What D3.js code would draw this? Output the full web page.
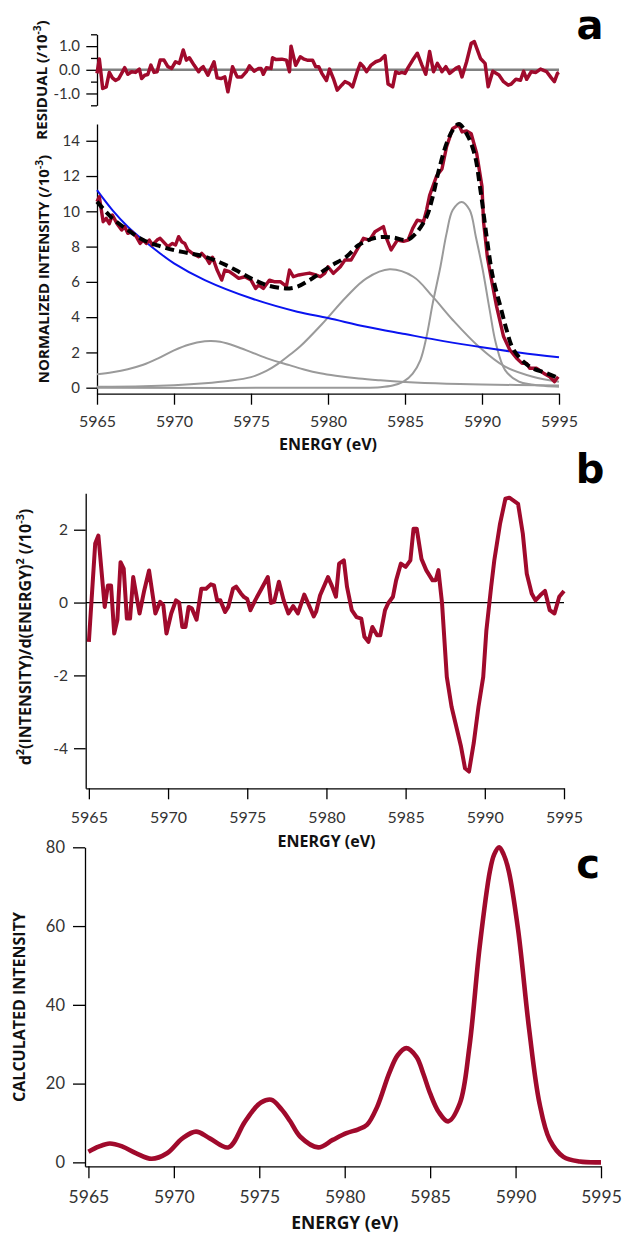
<!DOCTYPE html>
<html>
<head>
<meta charset="utf-8">
<script src="https://cdn.jsdelivr.net/npm/d3@7/dist/d3.min.js"></script>
<style>
  body { margin: 0; background: #fff; }
  svg { display: block; }
  .axis path, .axis line { stroke: #000; stroke-width: 1.3; }
  .axis text { font-family: Lato, "Open Sans", sans-serif; fill: #333; }
  .title { font-family: "Open Sans", sans-serif; font-weight: bold; fill: #111; }
  .letter { font-family: "DejaVu Sans", sans-serif; font-weight: bold; font-size: 40px; fill: #000; }
</style>
</head>
<body>
<script>
// ---- data ----
const energyTicks = [5965, 5970, 5975, 5980, 5985, 5990, 5995];

// panel a, residual (/10^-3)
const resE = [5965.0,5965.15,5965.37,5965.6,5965.8,5966.0,5966.2,5966.4,5966.6,5966.8,5967.0,5967.25,5967.5,5967.75,5967.9,5968.1,5968.3,5968.5,5968.7,5968.9,
  5969.1,5969.35,5969.6,5969.85,5970.1,5970.35,5970.6,5970.8,5971.0,5971.3,5971.6,5971.75,5971.9,5972.2,5972.4,5972.6,5972.8,5973.05,5973.3,5973.5,
  5973.8,5974.1,5974.4,5974.7,5974.9,5975.2,5975.5,5975.65,5975.8,5976.0,5976.3,5976.4,5976.6,5977.0,5977.3,5977.5,5977.6,5977.9,5978.2,5978.45,
  5978.7,5979.0,5979.2,5979.4,5979.6,5979.9,5980.1,5980.35,5980.6,5980.9,5981.1,5981.35,5981.6,5981.9,5982.1,5982.3,5982.5,5982.8,5983.1,5983.4,
  5983.7,5983.9,5984.2,5984.4,5984.6,5984.8,5985.0,5985.2,5985.5,5985.8,5986.1,5986.35,5986.6,5986.85,5987.1,5987.3,5987.4,5987.65,5987.9,5988.3,
  5988.5,5988.7,5989.0,5989.3,5989.5,5989.9,5990.2,5990.4,5990.7,5991.1,5991.4,5991.7,5991.9,5992.2,5992.5,5992.7,5992.9,5993.2,5993.5,5993.8,
  5994.2,5994.5,5994.7,5994.9,5995.0];
const resV = [-0.15,0.46,-0.79,-0.72,-0.11,-0.34,-0.45,-0.38,-0.15,0.09,-0.19,-0.08,-0.11,0.03,-0.37,-0.23,-0.2,0.2,-0.11,-0.08,
  0.41,0.41,0.13,0.06,0.34,0.27,0.84,0.41,0.51,0.2,-0.08,0.06,0.13,-0.23,0.06,0.34,-0.34,-0.37,-0.3,-0.93,
  0.13,-0.3,-0.3,-0.08,0.17,-0.06,0.06,0.06,-0.19,0.09,0.06,0.51,0.44,0.45,0.41,-0.08,1.0,0.19,0.55,0.45,
  0.4,0.4,0.13,0.13,-0.15,-0.45,0.03,-0.37,-0.86,-0.64,-0.5,-0.57,-0.72,-0.08,0.27,0.13,-0.08,0.2,0.34,0.41,
  0.6,-0.6,-0.72,-0.08,-0.15,-0.11,-0.15,0.09,0.41,0.7,0.2,-0.19,0.77,-0.08,0.27,0.06,-0.08,0.13,-0.15,0.06,
  0.13,-0.3,0.34,1.12,1.19,0.48,0.27,-0.72,-0.06,-0.22,-0.5,-0.65,-0.6,-0.4,-0.44,-0.06,-0.4,-0.08,-0.11,0.03,
  -0.08,-0.34,-0.5,-0.15,-0.11];

// panel a, measured spectrum (/10^-3)
const expE = [5965.0,5965.15,5965.4,5965.6,5965.8,5966.0,5966.3,5966.6,5966.8,5967.0,5967.25,5967.55,5967.8,5968.0,5968.2,5968.4,5968.6,5968.9,5969.1,5969.3,
  5969.6,5969.9,5970.1,5970.3,5970.5,5970.7,5970.9,5971.2,5971.6,5971.8,5972.1,5972.3,5972.5,5972.8,5973.1,5973.3,5973.6,5973.9,5974.2,5974.6,
  5975.0,5975.3,5975.5,5975.8,5976.2,5976.5,5976.9,5977.3,5977.5,5977.75,5978.1,5978.5,5978.8,5979.2,5979.5,5979.8,5980.0,5980.35,5980.8,5981.1,
  5981.5,5982.0,5982.3,5982.7,5983.05,5983.6,5983.8,5984.1,5984.5,5984.9,5985.2,5985.5,5985.8,5986.2,5986.4,5986.6,5987.05,5987.4,5987.7,5988.1,
  5988.5,5988.7,5989.0,5989.3,5989.65,5990.0,5990.1,5990.35,5990.6,5990.95,5991.4,5991.8,5992.25,5992.6,5992.9,5993.1,5993.55,5994.0,5994.4,5994.7,
  5994.95];
const expI = [10.55,10.83,9.41,9.6,9.3,9.79,9.3,8.94,9.13,8.75,8.84,8.56,8.18,8.37,8.18,8.37,8.09,8.37,8.47,8.28,
  8.0,8.18,8.09,8.56,8.28,8.18,7.81,7.62,7.43,7.62,7.34,7.05,7.4,6.67,6.1,6.67,6.58,6.39,6.2,6.29,
  6.1,5.63,5.82,5.63,6.1,6.01,6.01,5.75,6.67,6.29,6.39,6.45,6.5,6.4,6.29,6.5,6.86,6.48,6.86,7.24,
  7.24,8.0,8.47,8.37,8.84,9.13,8.47,7.81,8.37,8.3,8.37,9.03,9.5,9.41,10.07,10.9,12.0,12.4,13.66,14.7,
  14.9,14.5,14.56,14.4,13.3,11.4,9.4,7.4,6.2,4.6,2.9,2.15,1.67,1.38,1.38,1.1,1.1,0.82,0.62,0.34,
  0.62];

// panel a, total fit
const fitE = [5965,5966,5967,5968,5969,5970,5971,5972,5973,5974,5975,5976,5977,5977.5,5978,5978.8,5980.1,5981.2,5982,5983.1,
  5984.2,5985.1,5985.7,5986.4,5986.8,5987.2,5987.7,5988.1,5988.5,5989,5989.5,5989.9,5990.3,5990.7,5991.2,5991.6,5992,5992.7,5993.3,5994.2,5995];
const fitI = [10.55,9.6,8.94,8.37,8.05,7.8,7.62,7.43,7.1,6.67,6.2,5.82,5.65,5.63,5.72,6.1,6.86,7.43,8.09,8.5,
  8.52,8.37,8.75,9.69,10.83,12.34,13.85,14.6,14.95,14.4,13.3,11.2,8.56,6.29,4.59,3.27,2.23,1.47,1.1,0.82,0.53];

// panel a, background
const bgE = [5965,5966,5967,5968,5969,5970,5972,5975,5978,5980,5982.5,5985,5987.5,5990,5992.5,5995];
const bgI = [11.2,10.07,9.13,8.37,7.68,7.05,6.1,5.07,4.31,3.95,3.45,3.04,2.64,2.29,1.98,1.72];

// panel a, fitted components
const pk1E = [5965,5966,5967,5968,5969,5970,5971,5972,5972.4,5973,5974,5975,5976,5977,5977.5,5978.5,5979.5,5980.5,5982,5983.4,5985,5987.7,5990,5995];
const pk1I = [0.76,0.88,1.05,1.3,1.68,2.12,2.45,2.63,2.65,2.6,2.35,2.02,1.68,1.4,1.28,1.02,0.82,0.68,0.52,0.42,0.33,0.23,0.18,0.13];
const pk2E = [5965,5968,5970,5972,5973.5,5975,5976,5976.7,5977.5,5978.2,5979.6,5981.2,5982.5,5984.0,5985.54,5986.8,5988.1,5989.8,5991.5,5993.3,5995];
const pk2I = [0.05,0.08,0.14,0.25,0.38,0.6,0.95,1.32,1.85,2.35,3.6,5.16,6.2,6.71,6.29,5.16,3.84,2.32,1.19,0.62,0.34];
const pk3E = [5965,5982,5983.4,5984.2,5984.9,5985.5,5986.0,5986.4,5986.8,5987.3,5987.7,5988.1,5988.68,5989.2,5989.6,5990.05,5990.5,5990.9,5991.5,5992.4,5993.2,5994.1,5995];
const pk3I = [0,0,0.03,0.12,0.34,0.8,1.57,2.9,4.78,6.86,8.75,10.07,10.53,10.07,8.56,6.67,4.4,2.52,1.0,0.34,0.18,0.1,0.06];

// panel b, second derivative (/10^-3)
const d2E = [5965.0,5965.4,5965.6,5966.0,5966.2,5966.4,5966.6,5966.8,5967.0,5967.2,5967.4,5967.6,5967.8,5968.2,5968.5,5968.8,5969.2,5969.5,5969.7,5969.9,
  5970.2,5970.5,5970.7,5970.9,5971.1,5971.3,5971.5,5971.8,5972.1,5972.4,5972.7,5972.9,5973.1,5973.3,5973.6,5973.8,5974.1,5974.3,5974.6,5974.8,
  5975.0,5975.2,5975.5,5975.9,5976.3,5976.5,5976.7,5977.0,5977.3,5977.6,5977.9,5978.2,5978.6,5979.2,5979.35,5979.6,5980.1,5980.35,5980.6,5980.8,
  5981.1,5981.3,5981.6,5981.9,5982.2,5982.4,5982.65,5982.9,5983.2,5983.4,5983.7,5983.9,5984.2,5984.4,5984.7,5985.0,5985.3,5985.5,5985.7,5986.0,
  5986.3,5986.7,5986.9,5987.07,5987.3,5987.6,5987.9,5988.2,5988.5,5988.75,5989.0,5989.3,5989.6,5989.9,5990.1,5990.4,5990.6,5990.96,5991.3,5991.55,
  5992.1,5992.4,5992.65,5992.96,5993.2,5993.5,5993.8,5994.1,5994.4,5994.7,5995.0];
const d2V = [-1.08,1.62,1.84,-0.12,0.47,0.47,-0.85,-0.48,1.11,0.93,-0.44,-0.44,0.7,-0.3,0.34,0.88,-0.3,0.02,-0.07,-0.85,
  -0.3,0.06,0.0,-0.67,-0.67,-0.12,-0.16,-0.47,0.38,0.38,0.5,0.47,0.06,0.06,-0.26,-0.12,0.38,0.44,0.25,0.15,
  0.1,-0.21,0.06,0.38,0.7,-0.01,0.02,0.57,0.06,-0.3,-0.1,-0.3,0.22,-0.38,-0.25,0.2,0.7,0.45,0.16,1.07,
  1.16,0.43,-0.21,-0.4,-0.44,-0.94,-1.08,-0.67,-0.9,-0.9,-0.21,-0.02,0.16,0.61,1.07,0.98,1.16,2.03,2.03,1.2,
  0.89,0.61,0.61,0.89,-0.02,-2.04,-2.86,-3.41,-3.96,-4.55,-4.64,-3.86,-2.86,-2.04,-0.76,0.43,1.16,2.16,2.85,2.88,
  2.71,1.89,0.79,0.25,0.06,0.2,0.32,-0.21,-0.3,0.16,0.32];

// panel c, calculated spectrum
const calcE = [5965.0,5965.6,5966.25,5967.0,5967.8,5968.7,5969.6,5970.5,5971.3,5972.1,5973.2,5974.1,5974.6,5975.1,5975.7,5976.3,5976.8,5977.4,5978.45,5979.3,
  5980.1,5980.8,5981.3,5981.9,5982.6,5983.1,5983.6,5984.2,5984.6,5985.0,5985.5,5986.05,5986.74,5987.3,5987.9,5988.5,5988.75,5989.04,5989.3,5989.6,
  5990.15,5990.8,5991.4,5992.0,5992.8,5993.76,5995.0];
const calcI = [2.7,4.0,4.8,4.0,2.3,0.9,2.3,6.1,7.8,6.1,3.8,9.9,13.0,15.2,15.9,13.5,10.5,6.5,3.8,5.7,
  7.4,8.4,9.5,14.1,22.6,27.2,29.0,26.8,22.5,17.5,12.8,10.4,15.0,29.4,54.8,74.0,78.2,80.0,78.2,74.0,
  59.0,33.6,15.0,5.7,1.4,0.2,0.0];

// ---- drawing ----
const W = 623, H = 1235;
const RED = "#a00a2c";
const SMOOTH = d3.curveCatmullRom.alpha(0.5);
const svg = d3.select("body").append("svg").attr("width", W).attr("height", H);

function series(g, xs, ys, x, y, curve) {
  return g.append("path")
    .datum(xs.map((e, i) => [e, ys[i]]))
    .attr("fill", "none")
    .attr("stroke-linejoin", "round")
    .attr("d", d3.line().x(d => x(d[0])).y(d => y(d[1])).curve(curve || d3.curveLinear));
}

// title with superscripts, parts = [[text, isSup], ...]
function title(x, y, size, parts, rotate) {
  const t = svg.append("text").attr("class", "title")
    .attr("transform", `translate(${x},${y})` + (rotate ? " rotate(-90)" : ""))
    .attr("text-anchor", "middle").style("font-size", size + "px");
  let up = false;
  parts.forEach(([s, sup]) => {
    const sp = t.append("tspan").text(s);
    if (sup && !up) { sp.attr("dy", -0.42 * size).style("font-size", (size * 0.68) + "px"); up = true; }
    else if (sup) { sp.style("font-size", (size * 0.68) + "px"); }
    else if (up) { sp.attr("dy", 0.42 * size); up = false; }
  });
}

// ===== panel a: residual =====
const xA = d3.scaleLinear().domain([5965, 5995]).range([97, 559]);
const yRes = d3.scaleLinear().domain([-1.5, 1.5]).range([105.3, 34.3]);

svg.append("g").attr("class", "axis").attr("transform", "translate(97,0)")
  .call(d3.axisLeft(yRes).tickValues([-1.5, -0.5, 0.5, 1.5]).tickSize(6).tickSizeOuter(0).tickFormat(""));
svg.append("g").attr("class", "axis").attr("transform", "translate(97,0)")
  .call(d3.axisLeft(yRes).tickValues([-1, 0, 1]).tickSize(10.7).tickPadding(6.3).tickSizeOuter(0).tickFormat(d => d.toFixed(1)))
  .call(g => g.select(".domain").remove())
  .selectAll("text").style("font-size", "15px");

svg.append("line")
  .attr("x1", xA(5965)).attr("x2", xA(5995)).attr("y1", yRes(0)).attr("y2", yRes(0))
  .attr("stroke", "#808080").attr("stroke-width", 2.5);
series(svg.append("g"), resE, resV, xA, yRes).attr("stroke", RED).attr("stroke-width", 3.5);

title(47, 80, 15, [["RESIDUAL (/10"], ["-3", true], [")"]], true);

// ===== panel a: spectrum + fit =====
const yA = d3.scaleLinear().domain([-0.34, 14.95]).range([393.7, 124]);

svg.append("g").attr("class", "axis").attr("transform", "translate(97,0)")
  .call(d3.axisLeft(yA).tickValues(d3.range(0, 15, 2)).tickSize(10.7).tickPadding(6.3).tickSizeOuter(0))
  .selectAll("text").style("font-size", "15px");
svg.append("g").attr("class", "axis").attr("transform", "translate(0,393.7)")
  .call(d3.axisBottom(xA).tickValues(energyTicks).tickSize(11).tickPadding(11).tickSizeOuter(0).tickFormat(d3.format("d")))
  .selectAll("text").style("font-size", "16px");

const gA = svg.append("g");
[[pk1E, pk1I], [pk2E, pk2I], [pk3E, pk3I]].forEach(([e, v]) =>
  series(gA, e, v, xA, yA, SMOOTH).attr("stroke", "#9a9a9a").attr("stroke-width", 2));
series(gA, bgE, bgI, xA, yA, SMOOTH).attr("stroke", "#0a14f0").attr("stroke-width", 2);
series(gA, expE, expI, xA, yA).attr("stroke", RED).attr("stroke-width", 3.4);
series(gA, fitE, fitI, xA, yA, SMOOTH).attr("stroke", "#000").attr("stroke-width", 4)
  .attr("stroke-dasharray", "9,5");

title(49, 269, 15, [["NORMALIZED INTENSITY (/10"], ["-3", true], [")"]], true);
title(328, 449.5, 16, [["ENERGY (eV)"]], false);
svg.append("text").attr("class", "letter").attr("x", 590).attr("y", 39).attr("text-anchor", "middle").text("a");

// ===== panel b: second derivative =====
const xB = d3.scaleLinear().domain([5964.8, 5995]).range([85.7, 564]);
const yB = d3.scaleLinear().domain([-5.1, 3]).range([788.3, 493.3]);

svg.append("g").attr("class", "axis").attr("transform", "translate(85.7,0)")
  .call(d3.axisLeft(yB).tickValues([-4, -2, 0, 2]).tickSize(11.7).tickPadding(6).tickSizeOuter(0).tickFormat(d => String(d)))
  .selectAll("text").style("font-size", "15.5px");
svg.append("g").attr("class", "axis").attr("transform", "translate(0,788.3)")
  .call(d3.axisBottom(xB).tickValues(energyTicks).tickSize(11).tickPadding(12.4).tickSizeOuter(0).tickFormat(d3.format("d")))
  .selectAll("text").style("font-size", "16px");

svg.append("line")
  .attr("x1", xB.range()[0]).attr("x2", xB.range()[1]).attr("y1", yB(0)).attr("y2", yB(0))
  .attr("stroke", "#000").attr("stroke-width", 1.2);
series(svg.append("g"), d2E, d2V, xB, yB).attr("stroke", RED).attr("stroke-width", 4);

title(31, 637, 16, [["d"], ["2", true], ["(INTENSITY)/d(ENERGY)"], ["2", true], [" (/10"], ["-3", true], [")"]], true);
title(326.5, 847, 16, [["ENERGY (eV)"]], false);
svg.append("text").attr("class", "letter").attr("x", 590).attr("y", 483).attr("text-anchor", "middle").text("b");

// ===== panel c: calculated =====
const xC = d3.scaleLinear().domain([5964.8, 5995]).range([85, 601]);
const yC = d3.scaleLinear().domain([-1, 80]).range([1166.3, 847.3]);

svg.append("g").attr("class", "axis").attr("transform", "translate(85,0)")
  .call(d3.axisLeft(yC).tickValues([0, 20, 40, 60, 80]).tickSize(12).tickPadding(8).tickSizeOuter(0))
  .selectAll("text").style("font-size", "16.5px");
svg.append("g").attr("class", "axis").attr("transform", "translate(0,1166.3)")
  .call(d3.axisBottom(xC).tickValues(energyTicks).tickSize(12).tickPadding(12).tickSizeOuter(0).tickFormat(d3.format("d")))
  .selectAll("text").style("font-size", "17.5px");

series(svg.append("g"), calcE, calcI, xC, yC, SMOOTH).attr("stroke", RED).attr("stroke-width", 4.6);

title(25, 1007, 16, [["CALCULATED INTENSITY"]], true);
title(344.8, 1229, 17.5, [["ENERGY (eV)"]], false);
svg.append("text").attr("class", "letter").attr("x", 588).attr("y", 878).attr("text-anchor", "middle").text("c");
</script>
</body>
</html>
